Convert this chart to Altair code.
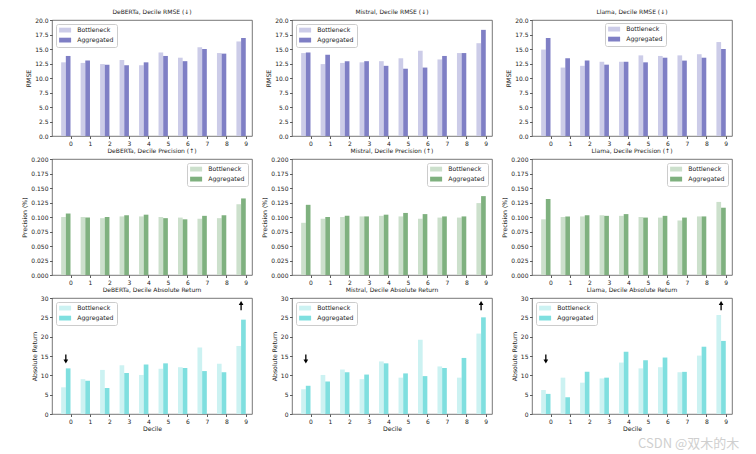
import altair as alt
import pandas as pd

deciles = list(range(10))
series_names = ["Bottleneck", "Aggregated"]

# RMSE
deberta_rmse_b = [12.7, 12.6, 12.4, 13.1, 12.2, 14.4, 13.5, 15.3, 14.3, 16.3]
deberta_rmse_a = [13.8, 13.0, 12.3, 12.2, 12.7, 13.8, 12.9, 15.0, 14.2, 16.9]
mistral_rmse_b = [14.3, 12.4, 12.6, 12.7, 12.9, 13.4, 14.7, 13.2, 14.3, 16.0]
mistral_rmse_a = [14.4, 14.0, 12.9, 12.9, 12.1, 11.6, 11.8, 13.8, 14.3, 18.3]
llama_rmse_b = [14.9, 11.8, 12.1, 12.8, 12.8, 13.9, 13.8, 13.9, 14.1, 16.2]
llama_rmse_a = [16.9, 13.4, 13.0, 12.3, 12.8, 12.7, 13.5, 13.0, 13.5, 15.0]

# Precision
deberta_prec_b = [0.100, 0.100, 0.098, 0.101, 0.101, 0.100, 0.099, 0.097, 0.098, 0.122]
deberta_prec_a = [0.106, 0.099, 0.100, 0.103, 0.104, 0.098, 0.096, 0.102, 0.103, 0.132]
mistral_prec_b = [0.090, 0.097, 0.100, 0.101, 0.102, 0.101, 0.097, 0.099, 0.099, 0.124]
mistral_prec_a = [0.121, 0.100, 0.102, 0.101, 0.104, 0.107, 0.105, 0.101, 0.101, 0.136]
llama_prec_b = [0.096, 0.100, 0.101, 0.103, 0.102, 0.100, 0.099, 0.094, 0.101, 0.126]
llama_prec_a = [0.131, 0.101, 0.103, 0.102, 0.105, 0.099, 0.102, 0.099, 0.101, 0.116]

# Absolute return
deberta_ret_b = [6.9, 9.0, 11.4, 12.6, 10.1, 11.7, 12.1, 17.2, 13.0, 17.6]
deberta_ret_a = [11.8, 8.6, 6.7, 10.6, 12.8, 13.1, 11.9, 11.1, 10.8, 24.4]
mistral_ret_b = [6.4, 10.1, 11.5, 9.0, 13.6, 9.4, 19.2, 12.3, 9.4, 20.8]
mistral_ret_a = [7.3, 8.4, 10.8, 10.2, 13.1, 10.5, 9.8, 11.9, 14.5, 25.0]
llama_ret_b = [6.2, 9.4, 8.1, 9.2, 13.3, 11.8, 12.1, 10.8, 15.1, 25.6]
llama_ret_a = [5.2, 4.3, 10.9, 9.4, 16.1, 13.9, 14.6, 10.9, 17.4, 18.9]

# arrows in the return panels (decile position, tail value, head value)
arrow_dir = ["down", "up"]
arrow_x = [-0.24, 8.76]
arrow_tail = [15.4, 26.8]
arrow_head = [13.6, 28.7]

rmse_colors = ["#ccccE8", "#7f7fc5"]
prec_colors = ["#cce0cc", "#7fb17f"]
ret_colors = ["#ccf2f2", "#7fdfdf"]

FONT = "DejaVu Sans"
PW, PH = 200, 116


def legend_params(orient, **kw):
    p = dict(
        title=None,
        orient=orient,
        offset=4,
        padding=3,
        strokeColor="#cccccc",
        fillColor="white",
        cornerRadius=2,
        labelFont=FONT,
        labelFontSize=6.2,
        labelColor="#222222",
        labelOffset=12,
        symbolType="M-1,-0.8H3V0.8H-1Z",
        symbolSize=36,
        symbolStrokeWidth=0,
        symbolOpacity=1,
        rowPadding=3,
    )
    p.update(kw)
    return alt.Legend(**p)


def panel(title, ytitle, b_vals, a_vals, colors, ydomain, yticks, yfmt, legend,
          xtitle=False, arrows=False, watermark=False):
    rows = []
    for d, b, a in zip(deciles, b_vals, a_vals):
        rows.append({"decile": d, "series": "Bottleneck", "value": b, "x0": d - 0.48, "x1": d - 0.24})
        rows.append({"decile": d, "series": "Aggregated", "value": a, "x0": d - 0.24, "x1": d})
    df = pd.DataFrame(rows)
    xscale = alt.Scale(domain=[-0.95, 9.32], nice=False, zero=False)
    yscale = alt.Scale(domain=ydomain, nice=False)
    xtitle_txt = "Decile" if xtitle else None

    def X(field):
        return alt.X(field, scale=xscale, axis=alt.Axis(values=deciles, format="d"), title=xtitle_txt)

    def Y(field):
        return alt.Y(field, scale=yscale, axis=alt.Axis(values=yticks, format=yfmt), title=ytitle)

    bars = alt.Chart(df).mark_bar().encode(
        x=X("x0:Q"),
        x2="x1:Q",
        y=Y("value:Q"),
        y2=alt.datum(0),
        color=alt.Color("series:N", scale=alt.Scale(domain=series_names, range=colors), legend=legend),
    )
    layers = [bars]
    if arrows:
        adf = pd.DataFrame({"dir": arrow_dir, "x": arrow_x, "tail": arrow_tail, "head": arrow_head})
        shaft = alt.Chart(adf).mark_rule(color="black", strokeWidth=1.3).encode(
            x=X("x:Q"), y=Y("tail:Q"), y2="head:Q"
        )
        head = alt.Chart(adf).mark_point(filled=True, color="black", opacity=1, size=22).encode(
            x=X("x:Q"),
            y=Y("head:Q"),
            shape=alt.Shape("dir:N", scale=alt.Scale(domain=["down", "up"], range=["triangle-down", "triangle-up"]), legend=None),
        )
        layers += [shaft, head]
    if watermark:
        wm = alt.Chart(pd.DataFrame({"t": ["CSDN @双木的木"]})).mark_text(
            align="left", baseline="middle", fontSize=13, color="#cfcfcf", font="Noto Sans CJK SC"
        ).encode(x=alt.value(106), y=alt.value(146), text="t:N")
        layers.append(wm)
    return alt.layer(*layers).properties(
        width=PW, height=PH,
        title=alt.TitleParams(title, fontSize=6, font=FONT, fontWeight="normal", color="#222222",
                              offset=2, frame="group"),
    )


rmse_ticks = [0, 2.5, 5, 7.5, 10, 12.5, 15, 17.5, 20]
prec_ticks = [0, 0.025, 0.05, 0.075, 0.1, 0.125, 0.15, 0.175, 0.2]
ret_ticks = [0, 5, 10, 15, 20, 25, 30]

panels = [
    panel("DeBERTa, Decile RMSE (↓)", "RMSE", deberta_rmse_b, deberta_rmse_a, rmse_colors, [0, 20], rmse_ticks, ".1f", legend_params("top-left")),
    panel("Mistral, Decile RMSE (↓)", "RMSE", mistral_rmse_b, mistral_rmse_a, rmse_colors, [0, 20], rmse_ticks, ".1f", legend_params("top-left")),
    panel("Llama, Decile RMSE (↓)", "RMSE", llama_rmse_b, llama_rmse_a, rmse_colors, [0, 20], rmse_ticks, ".1f", legend_params("none", legendX=73, legendY=3)),
    panel("DeBERTa, Decile Precision (↑)", "Precision (%)", deberta_prec_b, deberta_prec_a, prec_colors, [0, 0.2], prec_ticks, ".3f", legend_params("top-right")),
    panel("Mistral, Decile Precision (↑)", "Precision (%)", mistral_prec_b, mistral_prec_a, prec_colors, [0, 0.2], prec_ticks, ".3f", legend_params("top-right")),
    panel("Llama, Decile Precision (↑)", "Precision (%)", llama_prec_b, llama_prec_a, prec_colors, [0, 0.2], prec_ticks, ".3f", legend_params("top-right")),
    panel("DeBERTa, Decile Absolute Return", "Absolute Return", deberta_ret_b, deberta_ret_a, ret_colors, [0, 30], ret_ticks, "d", legend_params("top-left"), xtitle=True, arrows=True),
    panel("Mistral, Decile Absolute Return", "Absolute Return", mistral_ret_b, mistral_ret_a, ret_colors, [0, 30], ret_ticks, "d", legend_params("top-left"), xtitle=True, arrows=True),
    panel("Llama, Decile Absolute Return", "Absolute Return", llama_ret_b, llama_ret_a, ret_colors, [0, 30], ret_ticks, "d", legend_params("top-left"), xtitle=True, arrows=True, watermark=True),
]

chart = alt.concat(*panels, columns=3, spacing={"row": 23, "column": 40}, bounds="flush").resolve_scale(
    x="independent", y="independent", color="independent", shape="independent"
).resolve_legend(color="independent", shape="independent").properties(
    padding={"left": 13, "top": 0, "right": 2, "bottom": 5}
).configure_view(
    stroke="#555555", strokeWidth=0.8
).configure_axis(
    grid=False,
    domain=False,
    labelFont=FONT,
    labelFontSize=6,
    labelColor="#222222",
    labelPadding=1.5,
    labelOverlap=False,
    tickSize=2.5,
    tickColor="#333333",
    tickWidth=0.8,
    titleFont=FONT,
    titleFontSize=6.2,
    titleFontWeight="normal",
    titleColor="#222222",
    titlePadding=3,
).configure_axisX(
    titlePadding=1,
)

chart.save("out.html", embed_options={"renderer": "svg", "actions": False})
